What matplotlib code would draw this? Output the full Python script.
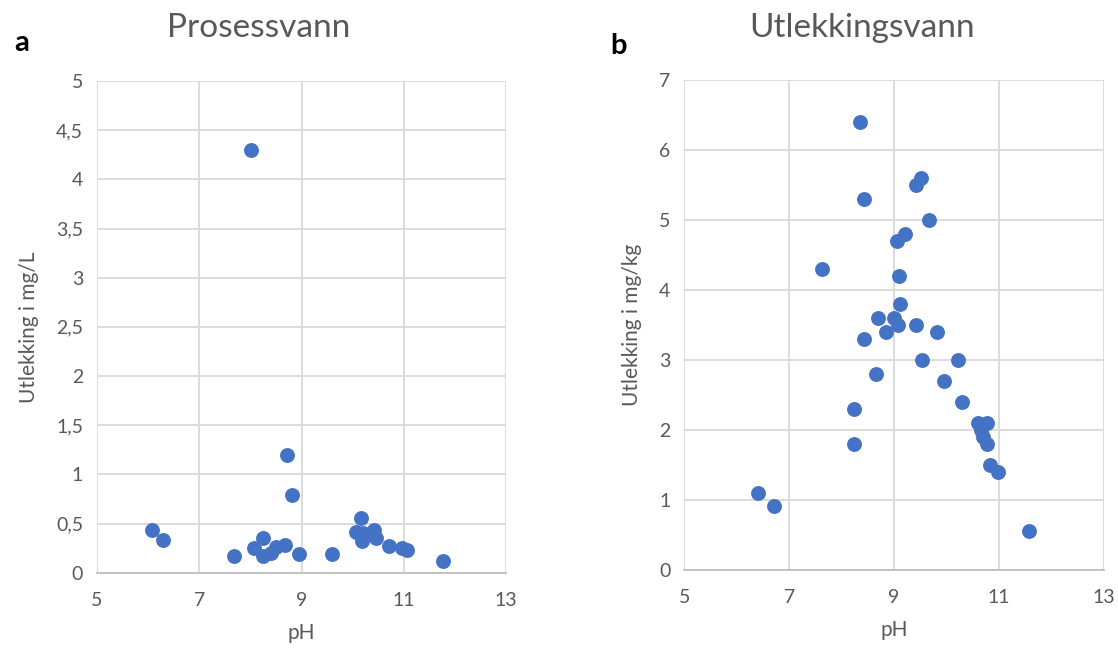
#!/usr/bin/env python3

import matplotlib
matplotlib.use("Agg")
import matplotlib.pyplot as plt
from matplotlib.ticker import FuncFormatter

plt.rcParams['font.family'] = ['Lato', 'DejaVu Sans']

# a: process water, leaching in mg/L against pH
ph_a = [8.02, 8.71, 8.82, 6.08, 6.29, 7.67, 8.24, 8.08, 8.24, 8.40, 8.50,
        8.67, 8.96, 9.59, 10.16, 10.06, 10.20, 10.42, 10.19, 10.45, 10.72,
        10.97, 11.06, 11.76]
leach_a = [4.30, 1.20, 0.79, 0.43, 0.33, 0.17, 0.35, 0.25, 0.17, 0.20, 0.26,
           0.28, 0.19, 0.19, 0.56, 0.41, 0.40, 0.43, 0.32, 0.35, 0.27,
           0.25, 0.23, 0.12]

# b: leachate water, leaching in mg/kg against pH
ph_b = [8.35, 9.51, 9.41, 8.43, 9.66, 9.21, 9.05, 7.62, 9.09, 9.12, 8.69,
        9.00, 9.08, 8.85, 9.42, 9.81, 8.42, 9.53, 10.21, 8.65, 9.96, 10.29,
        8.24, 10.60, 10.77, 10.66, 10.70, 10.77, 8.23, 10.82, 10.98, 11.57,
        6.40, 6.72]
leach_b = [6.4, 5.6, 5.5, 5.3, 5.0, 4.8, 4.7, 4.3, 4.2, 3.8, 3.6,
           3.6, 3.5, 3.4, 3.5, 3.4, 3.3, 3.0, 3.0, 2.8, 2.7, 2.4,
           2.3, 2.1, 2.1, 2.0, 1.9, 1.8, 1.8, 1.5, 1.4, 0.55,
           1.1, 0.91]

x_ticks = [5, 7, 9, 11, 13]
y_ticks_a = [0, 0.5, 1, 1.5, 2, 2.5, 3, 3.5, 4, 4.5, 5]
y_ticks_b = [0, 1, 2, 3, 4, 5, 6, 7]

blue = '#4472C4'
grey_txt = '#595959'


def comma(v, pos):
    s = ('%g' % v)
    return s.replace('.', ',')


def style(ax, yticks, ylabel):
    ax.set_xlim(5, 13)
    ax.set_ylim(yticks[0], yticks[-1])
    ax.set_xticks(x_ticks)
    ax.set_yticks(yticks)
    ax.yaxis.set_major_formatter(FuncFormatter(comma))
    ax.grid(True, color='#D9D9D9', linewidth=1.3)
    ax.set_axisbelow(True)
    for s in ['top', 'right', 'left']:
        ax.spines[s].set_visible(False)
    ax.spines['bottom'].set_color('#BFBFBF')
    ax.spines['bottom'].set_linewidth(1.3)
    ax.tick_params(length=0, labelsize=14, labelcolor=grey_txt)
    ax.tick_params(axis='x', pad=14)
    ax.tick_params(axis='y', pad=10)
    ax.set_xlabel('pH', fontsize=15, color=grey_txt, labelpad=10)
    ax.set_ylabel(ylabel, fontsize=15, color=grey_txt, labelpad=12)


fig = plt.figure(figsize=(11.18, 6.55), dpi=100)
ax1 = fig.add_axes([0.0868, 0.1257, 0.3658, 0.7506])
ax2 = fig.add_axes([0.612, 0.1298, 0.3755, 0.7482])

ax1.scatter(ph_a, leach_a, s=115, color=blue, zorder=3, linewidths=0)
ax2.scatter(ph_b, leach_b, s=115, color=blue, zorder=3, linewidths=0)

style(ax1, y_ticks_a, 'Utlekking i mg/L')
style(ax2, y_ticks_b, 'Utlekking i mg/kg')

fig.text(259 / 1118, 0.958, 'Prosessvann', fontsize=24, color=grey_txt,
         ha='center', va='center')
fig.text(862 / 1118, 0.958, 'Utlekkingsvann', fontsize=24, color=grey_txt,
         ha='center', va='center')
fig.text(22 / 1118, 0.935, 'a', fontsize=21, fontweight='bold', ha='center', va='center')
fig.text(619 / 1118, 0.93, 'b', fontsize=21, fontweight='bold', ha='center', va='center')

fig.savefig('out.png', dpi=100)
